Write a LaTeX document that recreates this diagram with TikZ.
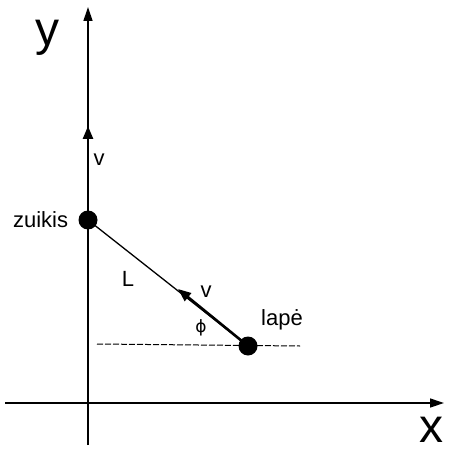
\documentclass[tikz,border=0pt]{standalone}
\usepackage{fontspec}
\setmainfont{Liberation Sans}
\newfontfamily\symfam{DejaVu Sans}
\usetikzlibrary{arrows.meta,positioning}

\begin{document}
\begin{tikzpicture}[x=1pt,y=-1pt,
  dot/.style={circle,fill=black,inner sep=0pt,minimum size=19pt},
  lbl/.style={font=\fontsize{22}{22}\selectfont,inner sep=0pt},
  axlbl/.style={font=\fontsize{48}{48}\selectfont,inner sep=0pt},
  axis/.style={line width=1.3pt,-{Triangle[length=14pt,width=9pt]}},
  vel/.style={line width=2.6pt,-{Triangle[length=13pt,width=10pt]}}]
\useasboundingbox (0,0) rectangle (448,454);
% axes
\coordinate (ybot) at (88,445);
\coordinate (ytop) at (88,7);
\coordinate (xleft) at (5,403);
\coordinate (xright) at (444,403);
\draw[axis] (ybot)--(ytop);
\draw[axis] (xleft)--(xright);
\node[axlbl] (ylab) at (47,38) {y};
\node[axlbl] (xlab) at (431,430) {x};
% bodies
\node[dot] (zuikis) at (88,220) {};
\node[dot] (lape) at (248,346) {};
\node[lbl] (zlab) [left=10pt of zuikis] {zuikis};
\node[lbl] (llab) at (282,320) {lapė};
% horizontal dashed line
\coordinate (dl) at (97,344);
\coordinate (dr) at (300,346);
\draw[line width=1pt,dash pattern=on 6pt off 2pt] (dl)--(dr);
% line of sight
\draw[line width=1.3pt] (zuikis.center)--(lape.center);
\node[lbl] (L) at (128,279) {L};
% velocities
\coordinate (vz) at (88,126);
\coordinate (vl) at (178,289);
\draw[vel] (zuikis.center)--(vz);
\draw[vel] (lape.center)--(vl);
\node[lbl] (vzlab) at (99,160) {v};
\node[lbl] (vllab) at (206,292) {v};
\node[inner sep=0pt,font=\symfam\fontsize{17}{17}\selectfont] (phi) at (201,328) {ϕ};
\end{tikzpicture}
\end{document}
